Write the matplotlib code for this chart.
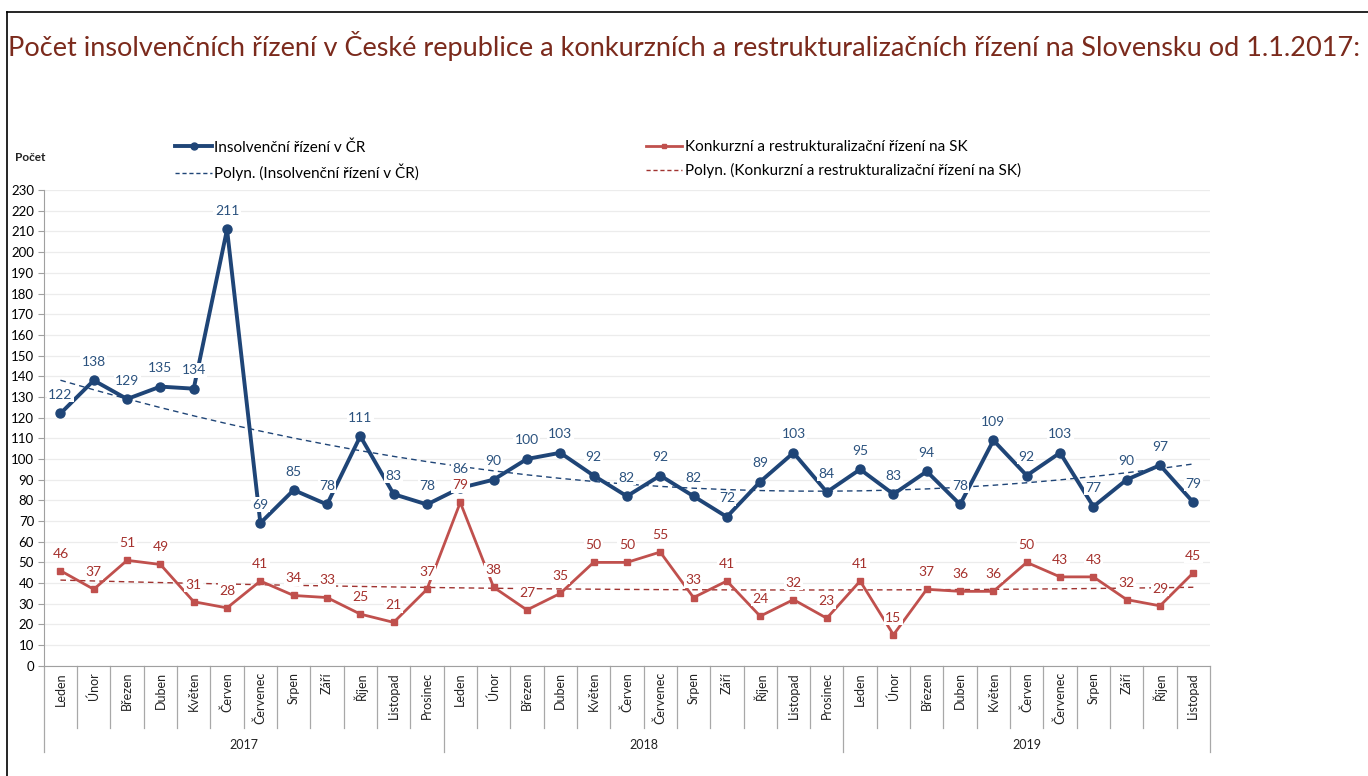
import numpy as np
import matplotlib.pyplot as plt
from matplotlib.lines import Line2D
import matplotlib.transforms as mtransforms

plt.rcParams['font.family'] = ['Lato', 'DejaVu Sans']

# data
months = ['Leden', 'Únor', 'Březen', 'Duben', 'Květen', 'Červen', 'Červenec',
          'Srpen', 'Září', 'Říjen', 'Listopad', 'Prosinec']
years = ['2017', '2018', '2019']
month_labels = months * 2 + months[:11]

cz = [122, 138, 129, 135, 134, 211, 69, 85, 78, 111, 83, 78,
      86, 90, 100, 103, 92, 82, 92, 82, 72, 89, 103, 84,
      95, 83, 94, 78, 109, 92, 103, 77, 90, 97, 79]
sk = [46, 37, 51, 49, 31, 28, 41, 34, 33, 25, 21, 37,
      79, 38, 27, 35, 50, 50, 55, 33, 41, 24, 32, 23,
      41, 15, 37, 36, 36, 50, 43, 43, 32, 29, 45]

blue = '#1f4577'
red = '#c0504d'
blue_lbl = '#2b527e'
red_lbl = '#a5312d'

x = np.arange(len(cz))

fig = plt.figure(figsize=(13.68, 7.76), dpi=100)
ax = fig.add_axes([0.032, 0.142, 0.8525, 0.613])

# trend lines (polynomial, order 2 like Excel default)
xe = x + 1
p_cz = np.polyfit(xe, cz, 2)
p_sk = np.polyfit(xe, sk, 2)
ax.plot(x, np.polyval(p_cz, xe), color=blue, lw=1.0, dashes=(4, 3), zorder=2)
ax.plot(x, np.polyval(p_sk, xe), color='#a03330', lw=1.0, dashes=(4, 3), zorder=2)

ax.plot(x, cz, color=blue, lw=2.8, marker='o', ms=6.5, zorder=3)
ax.plot(x, sk, color=red, lw=2.0, marker='s', ms=4.5, zorder=3)

# data labels
for xi, v in zip(x, cz):
    ax.annotate(str(v), (xi, v), xytext=(0, 9), textcoords='offset points',
                ha='center', va='bottom', fontsize=10, color=blue_lbl, zorder=4,
                bbox=dict(boxstyle='square,pad=0.1', fc='white', ec='none'))
for xi, v in zip(x, sk):
    ax.annotate(str(v), (xi, v), xytext=(0, 8), textcoords='offset points',
                ha='center', va='bottom', fontsize=10, color=red_lbl, zorder=4,
                bbox=dict(boxstyle='square,pad=0.1', fc='white', ec='none'))

ax.set_xlim(-0.5, len(cz) - 0.5)
ax.set_ylim(0, 230)
ax.set_yticks(np.arange(0, 231, 10))
ax.tick_params(axis='y', labelsize=9.5, length=4, color='#a0a0a0', pad=3)
ax.set_xticks([])
ax.grid(axis='y', color='#ececec', lw=0.9)
ax.set_axisbelow(True)
for s in ['top', 'right']:
    ax.spines[s].set_visible(False)
ax.spines['left'].set_color('#a0a0a0')
ax.spines['bottom'].set_color('#a0a0a0')

# category axis: months and years
trans = mtransforms.blended_transform_factory(ax.transData, ax.transAxes)
for k in range(len(cz) + 1):
    b = k - 0.5
    low = -0.182 if k in (0, 12, 24, len(cz)) else -0.13
    ax.plot([b, b], [0, low], transform=trans, color='#a8a8a8', lw=0.9, clip_on=False)
for xi, m in zip(x, month_labels):
    ax.text(xi, -0.013, m, transform=trans, rotation=90, ha='center', va='top',
            fontsize=9, color='#222222')
for i, yr in enumerate(years):
    start = i * 12 - 0.5
    end = min(i * 12 + 11.5, len(cz) - 0.5)
    ax.text((start + end) / 2, -0.166, yr, transform=trans, ha='center', va='center',
            fontsize=9, color='#222222')

# legends
h1 = [Line2D([], [], color=blue, lw=2.8, marker='o', ms=5),
      Line2D([], [], color=blue, lw=1.0, dashes=(3, 2))]
h2 = [Line2D([], [], color=red, lw=2.0, marker='s', ms=3.5),
      Line2D([], [], color='#a03330', lw=1.0, dashes=(3, 2))]
leg1 = fig.legend(h1, ['Insolvenční řízení v ČR', 'Polyn. (Insolvenční řízení v ČR)'],
                  loc='upper left', bbox_to_anchor=(0.118, 0.837), frameon=False,
                  fontsize=11, handlelength=2.4, handletextpad=0.15, labelspacing=0.6)
leg2 = fig.legend(h2, ['Konkurzní a restrukturalizační řízení na SK',
                       'Polyn. (Konkurzní a restrukturalizační řízení na SK)'],
                  loc='upper left', bbox_to_anchor=(0.462, 0.837), frameon=False,
                  fontsize=11, handlelength=2.4, handletextpad=0.15, labelspacing=0.6)

fig.text(0.011, 0.797, 'Počet', fontsize=8.5, fontweight='bold', va='center', color='#222222')

fig.text(0.006, 0.941, 'Počet insolvenčních řízení v České republice a konkurzních a '
         'restrukturalizačních řízení na Slovensku od 1.1.2017:',
         fontsize=19.5, color='#7b2a1c', va='center', ha='left')

# frame
fig.add_artist(Line2D([0.005, 0.005], [0, 0.985], transform=fig.transFigure, color='black', lw=1.2))
fig.add_artist(Line2D([0.005, 1], [0.985, 0.985], transform=fig.transFigure, color='black', lw=1.2))

fig.savefig('out.png', dpi=100)
